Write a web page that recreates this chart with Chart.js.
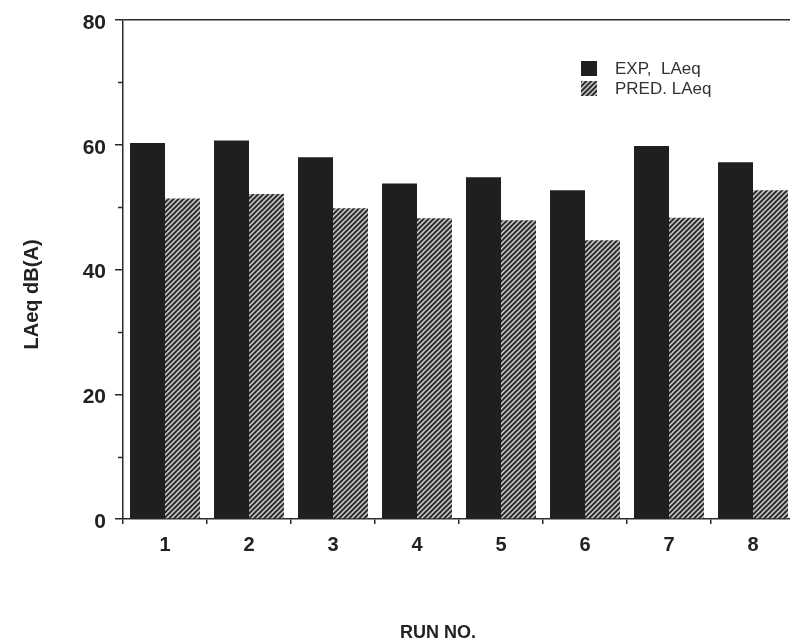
<!DOCTYPE html>
<html>
<head>
<meta charset="utf-8">
<script src="https://cdn.jsdelivr.net/npm/chart.js@4.4.1/dist/chart.umd.min.js"></script>
<style>
  html, body { margin: 0; padding: 0; background: #fff; overflow: hidden; }
  #wrap { width: 790px; height: 643px; overflow: hidden; position: relative; }
  canvas { display: block; }
</style>
</head>
<body>
<div id="wrap"><canvas id="c" width="795" height="643"></canvas></div>
<script>
const runs = ['1', '2', '3', '4', '5', '6', '7', '8'];
const expLAeq = [60.3, 60.7, 58.0, 53.8, 54.8, 52.7, 59.8, 57.2];
const predLAeq = [51.4, 52.1, 49.8, 48.2, 47.9, 44.7, 48.3, 52.7];
const yMajorTicks = [0, 20, 40, 60, 80];
const yMinorTicks = [10, 30, 50, 70];
const seriesLabels = ['EXP,  LAeq', 'PRED. LAeq'];
const xTitle = 'RUN NO.';
const yTitle = 'LAeq dB(A)';

const INK = '#2a2a2a';
const FONT = '"Liberation Sans", Arial, sans-serif';

function hatchPattern() {
  const s = 5;
  const c = document.createElement('canvas');
  c.width = s; c.height = s;
  const g = c.getContext('2d');
  g.fillStyle = '#2e2e2e';
  g.fillRect(0, 0, s, s);
  g.strokeStyle = '#d0d0d0';
  g.lineWidth = 1.5;
  g.beginPath();
  g.moveTo(-1, s + 1); g.lineTo(s + 1, -1);
  g.moveTo(-s - 1, s + 1); g.lineTo(1, -1);
  g.moveTo(-1, 2 * s + 1); g.lineTo(s + 1, s - 1);
  g.stroke();
  return g.createPattern(c, 'repeat');
}

const minorTickPlugin = {
  id: 'minorTicks',
  afterDraw(chart) {
    const y = chart.scales.y;
    const ctx = chart.ctx;
    ctx.save();
    ctx.strokeStyle = INK;
    ctx.lineWidth = 1.5;
    ctx.beginPath();
    yMinorTicks.forEach(v => {
      const py = Math.round(y.getPixelForValue(v)) + 0.5;
      ctx.moveTo(y.right - 5, py);
      ctx.lineTo(y.right, py);
    });
    ctx.stroke();
    ctx.restore();
  }
};

// axis titles placed where the original figure has them (off-centre)
const axisTitlePlugin = {
  id: 'axisTitles',
  afterDraw(chart) {
    const ctx = chart.ctx;
    const xs = chart.scales.x, ys = chart.scales.y;
    ctx.save();
    ctx.fillStyle = '#222';
    ctx.textAlign = 'center';
    ctx.textBaseline = 'middle';
    ctx.font = 'bold 18px ' + FONT;
    ctx.fillText(xTitle, xs.left + 315, 633);
    ctx.translate(32, ys.getPixelForValue(36));
    ctx.rotate(-Math.PI / 2);
    ctx.font = 'bold 20px ' + FONT;
    ctx.fillText(yTitle, 0, 0);
    ctx.restore();
  }
};

const boxLegendPlugin = {
  id: 'boxLegend',
  afterDraw(chart) {
    const ctx = chart.ctx;
    ctx.save();
    chart.data.datasets.forEach((ds, i) => {
      const top = 61 + i * 20;
      ctx.fillStyle = ds.backgroundColor;
      ctx.fillRect(581, top, 16, 15);
      ctx.fillStyle = '#333';
      ctx.font = '17px ' + FONT;
      ctx.textBaseline = 'middle';
      ctx.textAlign = 'left';
      ctx.fillText(ds.label, 615, top + 8);
    });
    ctx.restore();
  }
};

new Chart(document.getElementById('c'), {
  type: 'bar',
  data: {
    labels: runs,
    datasets: [
      { label: seriesLabels[0], data: expLAeq, backgroundColor: '#1f1f1f', borderWidth: 0 },
      { label: seriesLabels[1], data: predLAeq, backgroundColor: hatchPattern(), borderWidth: 0 }
    ]
  },
  options: {
    responsive: false,
    animation: false,
    devicePixelRatio: 1,
    layout: { padding: { top: 20, right: 0, bottom: 0, left: 0 } },
    datasets: { bar: { categoryPercentage: 0.833, barPercentage: 1.0 } },
    plugins: { legend: { display: false }, tooltip: { enabled: false } },
    scales: {
      x: {
        offset: true,
        afterFit(scale) { scale.height = 124; },
        border: { display: true, color: INK, width: 1.5 },
        grid: { drawOnChartArea: false, offset: true, tickLength: 5, tickColor: INK, lineWidth: 1.5 },
        ticks: {
          color: '#222', padding: 9,
          font: { family: FONT, size: 20, weight: 'bold' }
        },
        title: { display: false, text: xTitle }
      },
      y: {
        min: 0, max: 80,
        afterFit(scale) { scale.width = 123; },
        afterBuildTicks(scale) { scale.ticks = yMajorTicks.map(v => ({ value: v })); },
        border: { display: true, color: INK, width: 1.5 },
        grid: {
          color: ctx => (ctx.tick && ctx.tick.value === 80) ? INK : 'rgba(0,0,0,0)',
          tickColor: INK, tickLength: 8, lineWidth: 1.5
        },
        ticks: {
          color: '#222', padding: 9, labelOffset: 3,
          font: { family: FONT, size: 21, weight: 'bold', lineHeight: 1 }
        },
        title: { display: false, text: yTitle }
      }
    }
  },
  plugins: [minorTickPlugin, axisTitlePlugin, boxLegendPlugin]
});
</script>
</body>
</html>
